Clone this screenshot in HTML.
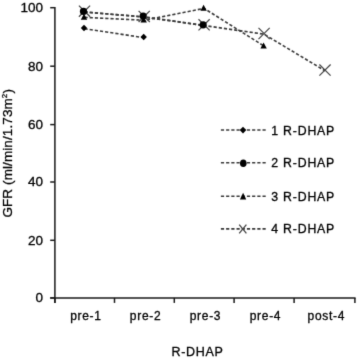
<!DOCTYPE html>
<html><head><meta charset="utf-8"><style>
html,body{margin:0;padding:0;background:#fff;}
body{width:358px;height:359px;overflow:hidden;}
svg{display:block;font-family:"Liberation Sans",sans-serif;}
text{fill:#000;letter-spacing:0.7px;stroke:#000;stroke-width:0.3px;}
</style></head><body>
<svg width="358" height="359" viewBox="0 0 358 359">
<defs><filter id="b" x="0" y="0" width="100%" height="100%" color-interpolation-filters="sRGB"><feConvolveMatrix order="3" kernelMatrix="0.0113 0.0838 0.0113 0.0838 0.6193 0.0838 0.0113 0.0838 0.0113" edgeMode="duplicate"/></filter></defs>
<g filter="url(#b)">
<rect width="358" height="359" fill="#fff"/>
<path d="M54.9 7.0V302.9M50.2 297.9H355.6" stroke="#1a1a1a" stroke-width="1.5" fill="none"/>
<path d="M50.2 297.9H54.9" stroke="#1a1a1a" stroke-width="1.5"/>
<path d="M50.2 240.3H54.9" stroke="#1a1a1a" stroke-width="1.5"/>
<path d="M50.2 182.0H54.9" stroke="#1a1a1a" stroke-width="1.5"/>
<path d="M50.2 124.6H54.9" stroke="#1a1a1a" stroke-width="1.5"/>
<path d="M50.2 66.2H54.9" stroke="#1a1a1a" stroke-width="1.5"/>
<path d="M50.2 7.7H54.9" stroke="#1a1a1a" stroke-width="1.5"/>
<path d="M54.9 297.9V302.9" stroke="#1a1a1a" stroke-width="1.5"/>
<path d="M114.5 297.9V302.9" stroke="#1a1a1a" stroke-width="1.5"/>
<path d="M174.3 297.9V302.9" stroke="#1a1a1a" stroke-width="1.5"/>
<path d="M234.1 297.9V302.9" stroke="#1a1a1a" stroke-width="1.5"/>
<path d="M294.1 297.9V302.9" stroke="#1a1a1a" stroke-width="1.5"/>
<path d="M354.9 297.9V302.9" stroke="#1a1a1a" stroke-width="1.5"/>
<text x="43.0" y="302.3" text-anchor="end" font-size="13.5" style="letter-spacing:0">0</text>
<text x="43.0" y="244.7" text-anchor="end" font-size="13.5" style="letter-spacing:0">20</text>
<text x="43.0" y="186.4" text-anchor="end" font-size="13.5" style="letter-spacing:0">40</text>
<text x="43.0" y="129.0" text-anchor="end" font-size="13.5" style="letter-spacing:0">60</text>
<text x="43.0" y="70.6" text-anchor="end" font-size="13.5" style="letter-spacing:0">80</text>
<text x="43.0" y="12.1" text-anchor="end" font-size="13.5" style="letter-spacing:0">100</text>
<text x="85.9" y="319.5" text-anchor="middle" font-size="12">pre-1</text>
<text x="145.6" y="319.5" text-anchor="middle" font-size="12">pre-2</text>
<text x="205.5" y="319.5" text-anchor="middle" font-size="12">pre-3</text>
<text x="265.5" y="319.5" text-anchor="middle" font-size="12">pre-4</text>
<text x="326.4" y="319.5" text-anchor="middle" font-size="12">post-4</text>
<text x="197.6" y="356.2" text-anchor="middle" font-size="12.5">R-DHAP</text>
<text transform="translate(11.9 153.3) rotate(-90)" text-anchor="middle" font-size="13.5" style="letter-spacing:0.1px">GFR (ml/min/1.73m<tspan font-size="8" dy="-5">2</tspan><tspan dy="5">)</tspan></text>
<polyline points="84.50,28.71 144.20,37.70" fill="none" stroke="#3a3a3a" stroke-width="1.6" stroke-dasharray="3.2 2"/>
<polyline points="84.50,12.17 144.20,16.81 204.10,25.52" fill="none" stroke="#3a3a3a" stroke-width="1.6" stroke-dasharray="3.2 2"/>
<polyline points="84.50,17.39 144.20,20.29 204.10,8.40 264.10,46.11" fill="none" stroke="#3a3a3a" stroke-width="1.6" stroke-dasharray="3.2 2"/>
<polyline points="84.50,11.88 144.20,17.10 204.10,25.52 264.10,34.22 325.00,70.77" fill="none" stroke="#3a3a3a" stroke-width="1.6" stroke-dasharray="3.2 2"/>
<path d="M78.90 5.58L90.10 16.78M90.10 5.58L78.90 16.78" stroke="#444" stroke-width="1.2" fill="none"/>
<path d="M138.60 10.80L149.80 22.00M149.80 10.80L138.60 22.00" stroke="#444" stroke-width="1.2" fill="none"/>
<path d="M198.50 19.22L209.70 30.42M209.70 19.22L198.50 30.42" stroke="#444" stroke-width="1.2" fill="none"/>
<path d="M258.50 27.92L269.70 39.12M269.70 27.92L258.50 39.12" stroke="#444" stroke-width="1.2" fill="none"/>
<path d="M319.40 64.47L330.60 75.67M330.60 64.47L319.40 75.67" stroke="#444" stroke-width="1.2" fill="none"/>
<path d="M84.00 24.81L87.20 28.01L84.00 31.21L80.80 28.01Z" fill="#000"/>
<path d="M143.70 33.80L146.90 37.00L143.70 40.20L140.50 37.00Z" fill="#000"/>
<circle cx="83.50" cy="11.47" r="3.6" fill="#000"/>
<circle cx="143.20" cy="16.11" r="3.6" fill="#000"/>
<circle cx="203.10" cy="24.82" r="3.6" fill="#000"/>
<path d="M84.00 13.69L87.20 19.69L80.80 19.69Z" fill="#000"/>
<path d="M143.70 16.59L146.90 22.59L140.50 22.59Z" fill="#000"/>
<path d="M203.60 4.70L206.80 10.70L200.40 10.70Z" fill="#000"/>
<path d="M263.60 42.41L266.80 48.41L260.40 48.41Z" fill="#000"/>
<path d="M220.9 130.0H266.1" stroke="#3a3a3a" stroke-width="1.6" stroke-dasharray="3.2 2"/>
<path d="M243.00 126.80L246.30 130.10L243.00 133.40L239.70 130.10Z" fill="#000"/>
<text x="271.2" y="134.5" font-size="12.3" style="letter-spacing:0.82px">1 R-DHAP</text>
<path d="M220.9 162.7H266.1" stroke="#3a3a3a" stroke-width="1.6" stroke-dasharray="3.2 2"/>
<ellipse cx="243.30" cy="163.20" rx="3.3" ry="3.8" fill="#000"/>
<text x="271.2" y="167.2" font-size="12.3" style="letter-spacing:0.82px">2 R-DHAP</text>
<path d="M220.9 196.2H266.1" stroke="#3a3a3a" stroke-width="1.6" stroke-dasharray="3.2 2"/>
<path d="M243.10 192.80L246.25 199.40L239.95 199.40Z" fill="#000"/>
<text x="271.2" y="200.7" font-size="12.3" style="letter-spacing:0.82px">3 R-DHAP</text>
<path d="M220.9 228.9H266.1" stroke="#3a3a3a" stroke-width="1.6" stroke-dasharray="3.2 2"/>
<path d="M239.20 224.70L246.40 233.30M246.40 224.70L239.20 233.30" stroke="#444" stroke-width="1.3" fill="none"/>
<text x="271.2" y="233.4" font-size="12.3" style="letter-spacing:0.82px">4 R-DHAP</text>
</g>
</svg>
</body></html>
